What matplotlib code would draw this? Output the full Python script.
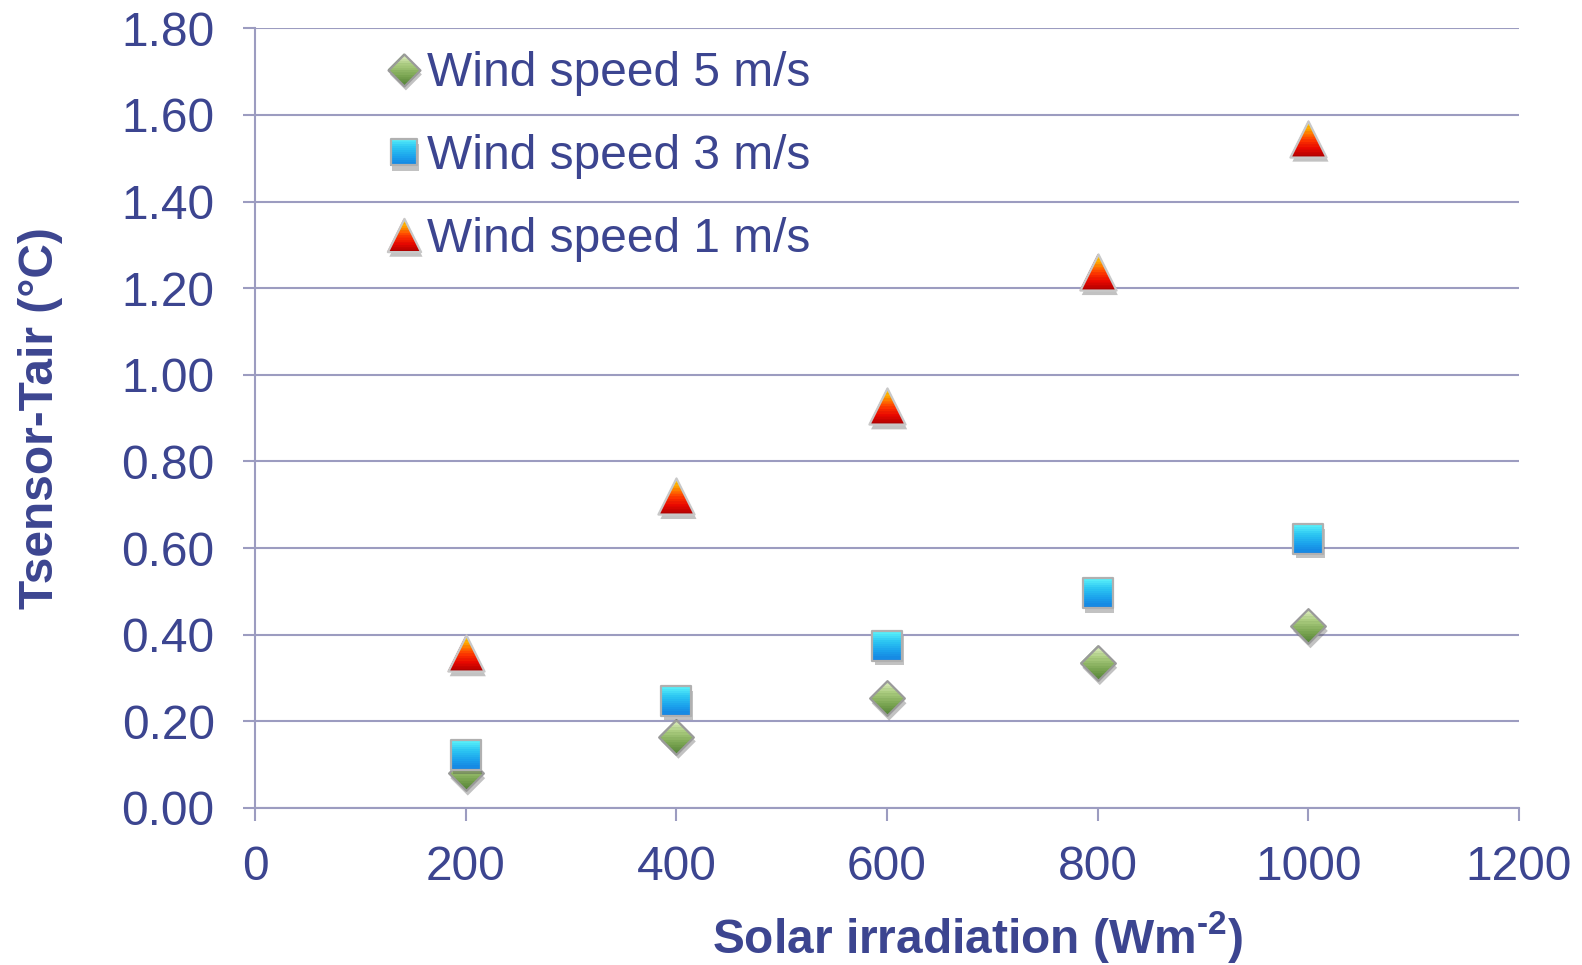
import matplotlib
matplotlib.use("Agg")
import numpy as np
import matplotlib.pyplot as plt
import matplotlib.patheffects as pe
from matplotlib.path import Path
from matplotlib.colors import LinearSegmentedColormap
from matplotlib.legend_handler import HandlerTuple

# Data
irradiation = [200, 400, 600, 800, 1000]
wind_5 = [0.08, 0.165, 0.253, 0.335, 0.42]
wind_3 = [0.123, 0.247, 0.374, 0.496, 0.622]
wind_1 = [0.357, 0.72, 0.927, 1.237, 1.545]
series_labels = ["Wind speed 5 m/s", "Wind speed 3 m/s", "Wind speed 1 m/s"]
x_ticks = [0, 200, 400, 600, 800, 1000, 1200]
y_ticks = [0.0, 0.2, 0.4, 0.6, 0.8, 1.0, 1.2, 1.4, 1.6, 1.8]

plt.rcParams['font.family'] = ['Liberation Sans', 'DejaVu Sans']
plt.rcParams['mathtext.fontset'] = 'custom'
plt.rcParams['mathtext.rm'] = 'Liberation Sans:bold'
plt.rcParams['mathtext.bf'] = 'Liberation Sans:bold'
TEXT = '#3c4590'
GRID = '#9c9cc0'
FS = 34.5

# Marker outlines in unit coordinates
SHAPES = {
    'diamond': [(0, 1), (1, 0), (0, -1), (-1, 0)],
    'square': [(-1, -1), (1, -1), (1, 1), (-1, 1)],
    'triangle': [(0, 1), (-1, -1), (1, -1)],
}


def clip_band(poly, y0, y1):
    """Clip a polygon to the horizontal band y0 <= y <= y1."""
    def clip(pts, keep, cross_y):
        out = []
        n = len(pts)
        for i in range(n):
            a, b = pts[i], pts[(i + 1) % n]
            ina, inb = keep(a), keep(b)
            if ina:
                out.append(a)
            if ina != inb:
                t = (cross_y - a[1]) / (b[1] - a[1])
                out.append((a[0] + t * (b[0] - a[0]), cross_y))
        return out
    pts = clip(poly, lambda p: p[1] >= y0, y0)
    if pts:
        pts = clip(pts, lambda p: p[1] <= y1, y1)
    return pts


def band_marker(poly, y0, y1):
    pts = clip_band(poly, y0, y1)
    # an anchor point at (1, 1) keeps every band on the same marker scale
    verts = [(1, 1)] + pts + [pts[0]]
    codes = [Path.MOVETO, Path.MOVETO] + [Path.LINETO] * (len(pts) - 1) + [Path.CLOSEPOLY]
    return Path(verts, codes)


def gradient_series(ax, x, y, shape, size, stops, edge, z, nbands=14):
    poly = SHAPES[shape]
    cmap = LinearSegmentedColormap.from_list(shape, stops)
    full = Path(poly + [poly[0]], [Path.MOVETO] + [Path.LINETO] * (len(poly) - 1) + [Path.CLOSEPOLY])
    shadow = [pe.SimplePatchShadow(offset=(1.5, -3.5), shadow_rgbFace='#505050', alpha=0.35), pe.Normal()]
    layers = []
    base, = ax.plot(x, y, linestyle='none', marker=full, markersize=size,
                    markerfacecolor=stops[-1], markeredgewidth=0, zorder=z,
                    path_effects=shadow)
    layers.append(base)
    edges = np.linspace(-1, 1, nbands + 1)
    for i in range(nbands):
        lo, hi = edges[i], edges[i + 1]
        col = cmap(1 - (lo + hi + 2) / 4)
        ln, = ax.plot(x, y, linestyle='none', marker=band_marker(poly, lo, hi + 0.02),
                      markersize=size, markerfacecolor=col, markeredgewidth=0,
                      zorder=z + 0.01)
        layers.append(ln)
    outline, = ax.plot(x, y, linestyle='none', marker=full, markersize=size,
                       markerfacecolor='none', markeredgecolor=edge, markeredgewidth=1.6,
                       zorder=z + 0.02)
    layers.append(outline)
    return tuple(layers)


fig = plt.figure(figsize=(15.82, 9.65), dpi=100)
ax = fig.add_axes([0.1612, 0.1627, 0.9602 - 0.1612, 0.9707 - 0.1627])

h5 = gradient_series(ax, irradiation, wind_5, 'diamond', 25,
                     ['#e2efc4', '#a9cb7e', '#7ba552', '#4f7f34'], '#9a9a9a', 3)
h3 = gradient_series(ax, irradiation, wind_3, 'square', 21,
                     ['#5af0fa', '#2cc6f2', '#1ba2ec', '#1480e0'], '#b0b0b0', 4)
h1 = gradient_series(ax, irradiation, wind_1, 'triangle', 26,
                     ['#ffe000', '#ff9a00', '#ff3a00', '#e80800', '#a80000'], '#c8c8c8', 5)

ax.set_xlim(0, 1200)
ax.set_ylim(0, 1.8)
ax.set_xticks(x_ticks)
ax.set_yticks(y_ticks)
ax.set_xticklabels([str(v) for v in x_ticks])
ax.set_yticklabels([f"{v:.2f}" for v in y_ticks])

ax.yaxis.grid(True, color=GRID, linewidth=1.5)
ax.set_axisbelow(True)
for s in ['top', 'right']:
    ax.spines[s].set_visible(False)
for s in ['left', 'bottom']:
    ax.spines[s].set_color(GRID)
    ax.spines[s].set_linewidth(1.5)

ax.tick_params(axis='both', colors=GRID, labelcolor=TEXT, labelsize=FS,
               length=9, width=1.5, direction='out')
ax.tick_params(axis='x', pad=18)
ax.tick_params(axis='y', pad=20)

ax.set_xlabel('Solar irradiation (Wm$^{\\text{-2}}$)', fontsize=FS, fontweight='bold',
              color=TEXT, labelpad=14)
ax.xaxis.set_label_coords(0.572, -0.13)
ax.set_ylabel('Tsensor-Tair (°C)', fontsize=FS, fontweight='bold', color=TEXT, labelpad=42)

ax.legend(handles=[h5, h3, h1], labels=series_labels,
          handler_map={tuple: HandlerTuple(ndivide=1, pad=0)},
          loc='upper left', bbox_to_anchor=(0.0836, 0.995), frameon=False, fontsize=FS,
          handletextpad=-0.01, labelspacing=0.79, handlelength=1.0, labelcolor=TEXT,
          borderaxespad=0, markerscale=0.92)

fig.savefig('out.png', dpi=100)
